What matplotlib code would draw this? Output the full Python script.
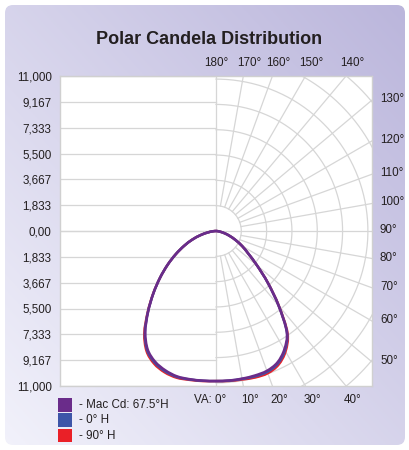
import numpy as np
import matplotlib.pyplot as plt
from matplotlib.patches import FancyBboxPatch, Rectangle, PathPatch
from matplotlib.path import Path

plt.rcParams['font.family'] = ['Liberation Sans', 'DejaVu Sans']

# vertical angles (deg from nadir) and candela on each side of the plot
va_deg = [0, 5, 10, 15, 20, 25, 30, 35, 40, 45, 50, 55, 60, 65, 70, 75, 80, 85, 90]
mac_right = [10650, 10650, 10640, 10620, 10560, 10300, 9700, 8750, 6900, 5200, 3800, 2800, 2150, 1550, 1050, 650, 320, 110, 0]
mac_left = [10650, 10660, 10680, 10680, 10520, 10230, 9700, 8750, 7500, 6300, 5200, 4200, 3300, 2500, 1800, 1150, 600, 220, 0]
h0_right = [10650, 10660, 10660, 10680, 10640, 10380, 9780, 8790, 6920, 5200, 3800, 2800, 2150, 1550, 1050, 650, 320, 110, 0]
h0_left = [10650, 10670, 10700, 10720, 10590, 10300, 9770, 8800, 7520, 6300, 5200, 4200, 3300, 2500, 1800, 1150, 600, 220, 0]
h90_right = [10650, 10680, 10700, 10760, 10740, 10480, 9870, 8850, 6950, 5220, 3800, 2800, 2150, 1550, 1050, 650, 320, 110, 0]
h90_left = [10650, 10690, 10730, 10780, 10670, 10390, 9850, 8870, 7550, 6320, 5200, 4200, 3300, 2500, 1800, 1150, 600, 220, 0]

series_names = ['- Mac Cd: 67.5°H', '- 0° H', '- 90° H']
series_colors = ['#6a2c8a', '#3d55a8', '#ea2027']

max_cd = 11000
step = max_cd / 6
ytick_labels = ['11,000', '9,167', '7,333', '5,500', '3,667', '1,833', '0,00',
                '1,833', '3,667', '5,500', '7,333', '9,167', '11,000']
top_angles = [180, 170, 160, 150, 140]
right_angles = [130, 120, 110, 100, 90, 80, 70, 60, 50]
bottom_angles = [10, 20, 30, 40]


def smooth_path(x, y):
    # Catmull-Rom through the points, drawn as cubic Bezier segments
    p = np.column_stack([x, y])
    n = len(p)
    verts = [p[0]]
    codes = [Path.MOVETO]
    for i in range(n - 1):
        a = p[max(i - 1, 0)]
        b = p[i]
        c = p[i + 1]
        d = p[min(i + 2, n - 1)]
        verts += [b + (c - a) / 6, c - (d - b) / 6, c]
        codes += [Path.CURVE4] * 3
    return Path(verts, codes)


W, H = 410, 450
fig = plt.figure(figsize=(W / 100, H / 100), dpi=100)
fig.patch.set_facecolor('white')

# lavender gradient panel
bg = fig.add_axes([0, 0, 1, 1])
bg.set_xlim(0, W)
bg.set_ylim(0, H)
bg.axis('off')
gx, gy = np.meshgrid(np.linspace(0, 1, 200), np.linspace(0, 1, 200))
t = (gx + gy) / 2
c0 = np.array([0.95, 0.95, 0.985])
c1 = np.array([0.73, 0.71, 0.86])
img = c0 + (c1 - c0) * t[..., None]
im = bg.imshow(img, extent=[0, W, 0, H], origin='lower', aspect='auto')
panel = FancyBboxPatch((5, 5), W - 10, H - 10, boxstyle='round,pad=0,rounding_size=8',
                       transform=bg.transData, facecolor='none', edgecolor='none')
bg.add_patch(panel)
im.set_clip_path(panel)

fig.text(209 / W, 1 - 40 / H, 'Polar Candela Distribution', ha='center', va='center',
         fontsize=13, fontweight='bold', color='#231f20')

# plot box: x 60..372, y 76..386 px, centre at (216, 231)
ax = fig.add_axes([60 / W, (H - 386) / H, 312 / W, 310 / H])
ax.set_facecolor('white')
px = max_cd / 155.0
xmin, xmax = -156 * px, 156 * px
ax.set_xlim(xmin, xmax)
ax.set_ylim(-max_cd, max_cd)
for s in ax.spines.values():
    s.set_color('#d0d0d0')
    s.set_linewidth(1)

gcol = '#d6d6d6'
yt = np.arange(-6, 7) * step
for y in yt:
    ax.plot([xmin, 0], [y, y], color=gcol, lw=0.9, zorder=1)
ax.axvline(0, color=gcol, lw=0.9, zorder=1)
ax.axhline(0, color=gcol, lw=0.9, zorder=1)

th = np.linspace(-np.pi / 2, np.pi / 2, 300)
for k in range(1, 9):
    r = k * step * 0.98
    ax.plot(r * np.cos(th), r * np.sin(th), color=gcol, lw=0.9, zorder=1)
for a in range(10, 180, 10):
    if a == 90:
        continue
    ar = np.radians(a)
    r0, r1 = step * 0.98, 3 * max_cd
    ax.plot([r0 * np.sin(ar), r1 * np.sin(ar)], [-r0 * np.cos(ar), -r1 * np.cos(ar)],
            color=gcol, lw=0.9, zorder=1)

ax.set_xticks([])
ax.set_yticks(yt)
ax.set_yticklabels(ytick_labels[::-1])
ax.tick_params(axis='y', length=0, pad=6, labelsize=8.4, labelcolor='#231f20')

lab = dict(fontsize=8.4, color='#231f20', clip_on=False)
for a in top_angles:
    xh = max_cd * np.tan(np.radians(180 - a))
    ax.text(xh + (0 if a == 180 else 6 * px), max_cd + 13 * px, f'{a}°', ha='center', va='center', **lab)
for a in right_angles:
    ar = np.radians(a)
    yh = -xmax * np.cos(ar) / np.sin(ar)
    ax.text(xmax + 8 * px, yh + 1 * px, f'{a}°', ha='left', va='center', **lab)
for a in bottom_angles:
    xh = max_cd * np.tan(np.radians(a))
    ax.text(xh + 7 * px, -max_cd - 14 * px, f'{a}°', ha='center', va='center', **lab)
ax.text(10 * px, -max_cd - 14 * px, 'VA: 0°', ha='right', va='center', **lab)

# curves: red, blue, then purple on top
va = np.radians(va_deg)
curves = [(h90_left, h90_right, series_colors[2]),
          (h0_left, h0_right, series_colors[1]),
          (mac_left, mac_right, series_colors[0])]
for left, right, col in curves:
    left = np.array(left, float)
    right = np.array(right, float)
    x = np.concatenate([-(left * np.sin(va))[::-1], (right * np.sin(va))[1:]])
    y = np.concatenate([-(left * np.cos(va))[::-1], (-right * np.cos(va))[1:]])
    ax.add_patch(PathPatch(smooth_path(x, y), facecolor='none', edgecolor=col,
                           lw=1.8, zorder=3, joinstyle='round'))

# legend
for i, (name, col) in enumerate(zip(series_names, series_colors)):
    ytop = 398 + i * 15.3
    fig.patches.append(Rectangle((58.5 / W, (H - ytop - 13.5) / H), 14 / W, 13.5 / H,
                                 transform=fig.transFigure, facecolor=col, edgecolor='none'))
    fig.text(79 / W, 1 - (ytop + 7) / H, name, ha='left', va='center',
             fontsize=8.4, color='#231f20')

fig.savefig('out.png', dpi=100)
